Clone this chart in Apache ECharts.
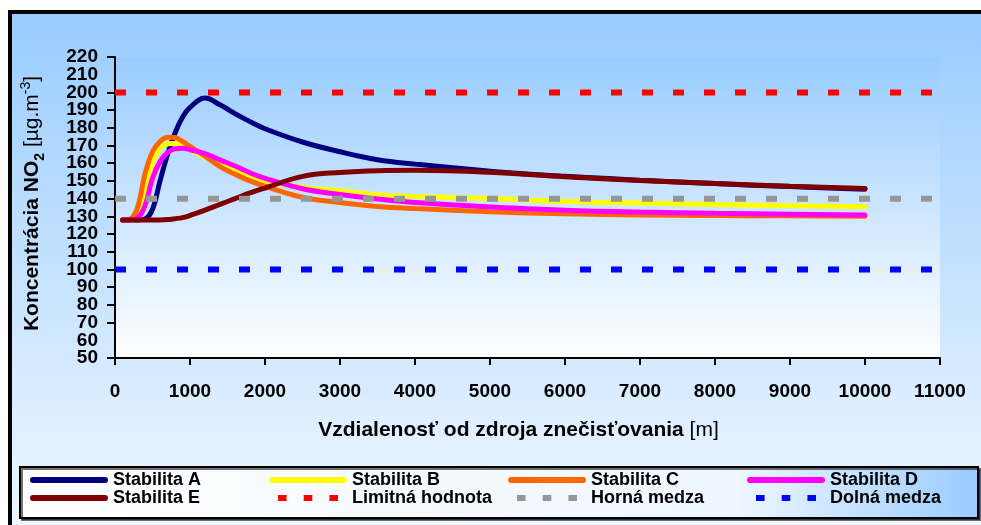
<!DOCTYPE html>
<html>
<head>
<meta charset="utf-8">
<script src="https://cdn.jsdelivr.net/npm/echarts@6/dist/echarts.min.js"></script>
<style>html,body{margin:0;padding:0;background:#fff}#c{width:981px;height:525px}</style>
</head>
<body>
<div id="c"></div>
<script>
// distances [m]
const distances = [100, 200, 300, 400, 500, 600, 700, 800, 900, 1000, 1200, 1400, 1600, 1800, 2000, 2500, 3000, 3500, 4000, 5000, 6000, 7000, 8000, 9000, 10000];
const stabilitaA = [128, 128, 128, 128.5, 134, 150, 165, 177, 186, 191.5, 196.8, 193, 188, 183.5, 179.5, 172, 166.5, 162, 159.5, 155.5, 152.6, 150.4, 148.5, 146.8, 145.3];
const stabilitaB = [128, 128, 128.3, 144, 160.5, 168, 171, 171.2, 170, 167.6, 163.4, 159.1, 155.5, 152.3, 150, 146.5, 144.5, 142.2, 141.2, 140.1, 138.4, 137.5, 136.7, 136, 135.4];
const stabilitaC = [128, 128.5, 135, 154, 166.5, 172.3, 174.7, 174.5, 172.3, 169.5, 164, 158.1, 153.8, 150, 147, 140.8, 137.8, 135.6, 134.4, 132.6, 131.4, 130.8, 130.5, 130.3, 130.1];
const stabilitaD = [128, 128, 129, 136, 151.5, 161, 166, 168.2, 168.4, 167.6, 165.5, 161.9, 158.4, 154.6, 151.5, 145.6, 142.3, 139.8, 137.8, 135.3, 133.5, 132.4, 131.7, 131.2, 130.8];
const stabilitaE = [128, 128, 128, 128, 128, 128, 128.2, 128.7, 129.3, 130.5, 133.5, 136.8, 140, 143.2, 146, 152.6, 154.8, 155.8, 156, 154.9, 152.4, 150.3, 148.5, 147, 145.8];
const limitX = [0, 11000];
const limitna = 200, horna = 140, dolna = 100;
const seriesNames = ['Stabilita A', 'Stabilita B', 'Stabilita C', 'Stabilita D', 'Stabilita E', 'Limitná hodnota', 'Horná medza', 'Dolná medza'];
// y tick labels next to the axis ends that ECharts would drop on overlap
const extraYLabels = [60, 210];

const pair = (ys) => distances.map((d, i) => [d, ys[i]]);
const flat = (v) => limitX.map(x => [x, v]);

const chart = echarts.init(document.getElementById('c'), null, {renderer: 'canvas'});
const font = 'Liberation Sans, Arial, sans-serif';
const curve = (name, color, ys) => ({
  name, type: 'line', data: pair(ys), smooth: 0.4, symbol: 'none',
  lineStyle: {color, width: 5, cap: 'round'}, itemStyle: {color}, z: 3
});
const ref = (name, color, v) => ({
  name, type: 'line', data: flat(v), symbol: 'none',
  lineStyle: {color, width: 6, type: [11, 20], cap: 'butt'}, itemStyle: {color}, z: 4
});
const solidIcon = 'path://M3,0h72a3,3 0 0 1 0,6h-72a3,3 0 0 1 0,-6z';
const dashIcon = 'path://M0,0h10v7h-10z M30,0h10v7h-10z M60,0h10v7h-10z';
const legendCol = (left, a, b, bDashed) => ({
  orient: 'vertical', left, top: 471, itemWidth: 78, itemHeight: 6, itemGap: 0, padding: 0,
  itemStyle: {borderWidth: 0}, lineStyle: {width: 0},
  data: [{name: a, icon: solidIcon}, {name: b, icon: bDashed ? dashIcon : solidIcon}],
  textStyle: {fontFamily: font, fontWeight: 'bold', fontSize: 18, color: '#000', lineHeight: 18}
});
const yLabelStyle = {fontFamily: font, fontWeight: 'bold', fontSize: 19, color: '#000', margin: 17};

chart.setOption({
  animation: false,
  backgroundColor: '#fff',
  graphic: [
    {type: 'rect', z: -20, shape: {x: 10, y: 12, width: 1000, height: 600},
     style: {stroke: '#000', lineWidth: 4,
       fill: new echarts.graphic.LinearGradient(0, 0, 0, 1, [{offset: 0, color: '#99CCFF'}, {offset: 1, color: '#FFFFFF'}])}},
    {type: 'rect', z: -5, shape: {x: 20, y: 467, width: 958, height: 51},
     style: {stroke: '#000', lineWidth: 2, shadowColor: 'rgba(0,0,0,0.55)', shadowOffsetX: 2, shadowOffsetY: 2,
       fill: new echarts.graphic.LinearGradient(0, 0, 1, 0, [{offset: 0, color: '#FFFFFF'}, {offset: 0.75, color: '#EEF6FF'}, {offset: 1, color: '#99CCFF'}])}}
  ],
  grid: {left: 115, right: 41, top: 57, bottom: 167, show: true, borderWidth: 0,
    backgroundColor: new echarts.graphic.LinearGradient(0, 0, 0, 1, [{offset: 0, color: '#99CCFF'}, {offset: 1, color: '#FFFFFF'}])},
  xAxis: {
    type: 'value', min: 0, max: 11000, interval: 1000,
    name: '{b|Vzdialenosť od zdroja znečisťovania }{n|[m]}', nameLocation: 'middle', nameGap: 62,
    nameTextStyle: {padding: [0, 18, 0, 0], rich: {b: {fontFamily: font, fontWeight: 'bold', fontSize: 21, color: '#000'}, n: {fontFamily: font, fontSize: 21, color: '#000'}}},
    axisLine: {onZero: false, lineStyle: {color: '#000', width: 2}},
    axisTick: {show: true, length: 7, lineStyle: {color: '#000', width: 2}},
    axisLabel: {fontFamily: font, fontWeight: 'bold', fontSize: 19, color: '#000', margin: 24,
      showMinLabel: true, showMaxLabel: true, formatter: (v) => String(v)},
    splitLine: {show: false}
  },
  yAxis: [{
    type: 'value', min: 50, max: 220, interval: 10,
    name: '{b|Koncentrácia NO}{sub|2}{n| [µg.m}{sup|-3}{n|]}', nameLocation: 'middle', nameGap: 72, nameRotate: 90,
    nameTextStyle: {padding: [0, 0, 0, 8], rich: {
      b: {fontFamily: font, fontWeight: 'bold', fontSize: 21, color: '#000', verticalAlign: 'bottom', lineHeight: 24},
      sub: {fontFamily: font, fontWeight: 'bold', fontSize: 14, color: '#000', verticalAlign: 'bottom', lineHeight: 17, padding: [0, 0, -4, 0]},
      n: {fontFamily: font, fontSize: 21, color: '#000', verticalAlign: 'bottom', lineHeight: 24},
      sup: {fontFamily: font, fontSize: 14, color: '#000', verticalAlign: 'top', lineHeight: 17, padding: [0, 0, 11, 0]}
    }},
    axisLine: {show: true, lineStyle: {color: '#000', width: 2}},
    axisTick: {show: true, length: 8, lineStyle: {color: '#000', width: 2}},
    axisLabel: Object.assign({showMinLabel: true, showMaxLabel: true, formatter: (v) => String(v)}, yLabelStyle),
    splitLine: {show: false}
  }, {
    type: 'value', min: 50, max: 220, interval: 10, position: 'left', offset: 0,
    axisLine: {show: false}, axisTick: {show: false}, splitLine: {show: false},
    axisLabel: Object.assign({showMinLabel: false, showMaxLabel: false,
      formatter: (v) => extraYLabels.indexOf(v) >= 0 ? String(v) : ''}, yLabelStyle)
  }],
  legend: [
    legendCol(30, seriesNames[0], seriesNames[4], false),
    legendCol(269, seriesNames[1], seriesNames[5], true),
    legendCol(508, seriesNames[2], seriesNames[6], true),
    legendCol(747, seriesNames[3], seriesNames[7], true)
  ],
  series: [
    curve(seriesNames[0], '#000080', stabilitaA),
    curve(seriesNames[1], '#FFFF00', stabilitaB),
    curve(seriesNames[2], '#FF6600', stabilitaC),
    curve(seriesNames[3], '#FF00FF', stabilitaD),
    curve(seriesNames[4], '#800000', stabilitaE),
    ref(seriesNames[5], '#FF0000', limitna),
    ref(seriesNames[6], '#969696', horna),
    ref(seriesNames[7], '#0000FF', dolna)
  ]
});
</script>
</body>
</html>
